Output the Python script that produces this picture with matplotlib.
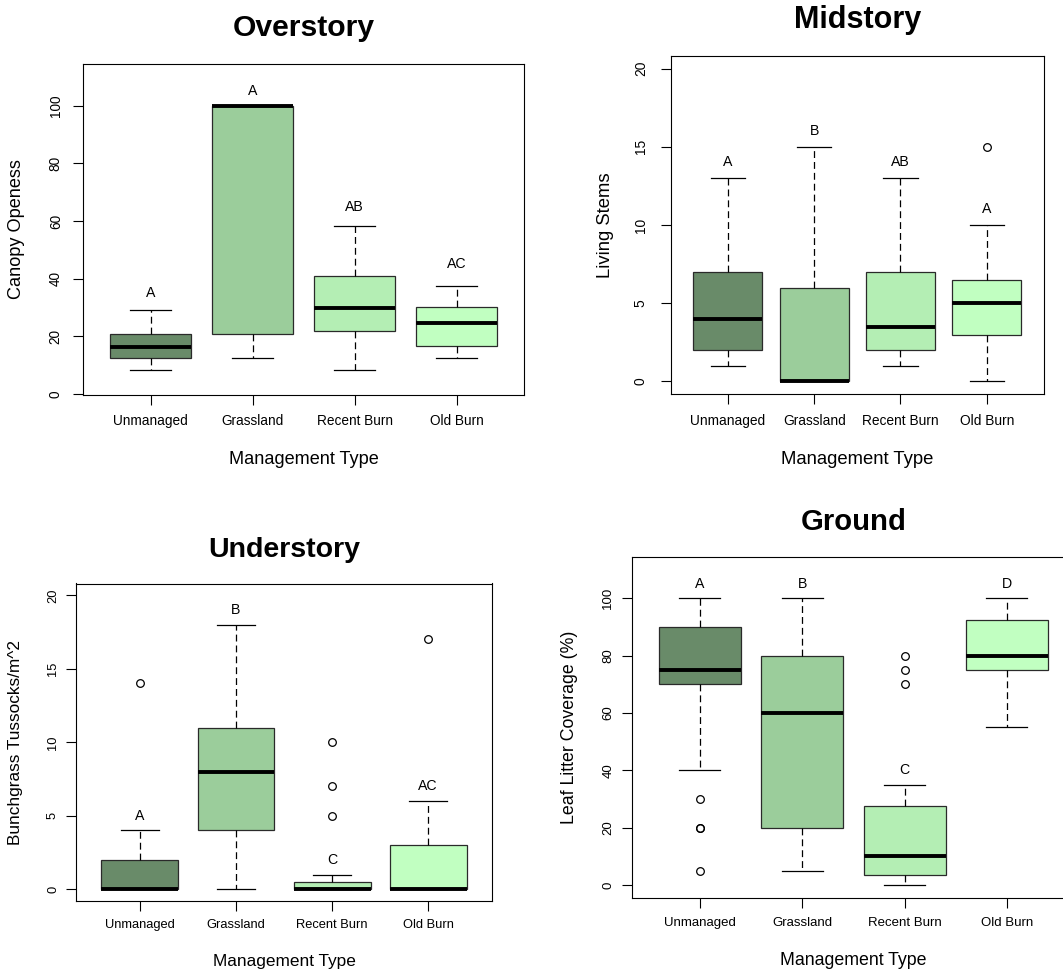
import matplotlib
matplotlib.use('Agg')
import matplotlib.pyplot as plt

plt.rcParams['font.family'] = ['Liberation Sans', 'DejaVu Sans']

categories = ['Unmanaged', 'Grassland', 'Recent Burn', 'Old Burn']
box_colors = ['#698B69', '#9BCD9B', '#B4EEB4', '#C1FFC1']
x_label = 'Management Type'

# ---- Overstory ----
over_whislo = [8.4, 12.5, 8.4, 12.5]
over_q1 = [12.5, 20.9, 21.8, 16.6]
over_med = [16.5, 100, 29.7, 24.5]
over_q3 = [20.8, 100, 41.0, 30.1]
over_whishi = [29.2, 100, 58.3, 37.5]
over_fliers = [[], [], [], []]
over_letters = ['A', 'A', 'AB', 'AC']
over_letter_y = [35, 105, 65, 45]
over_yticks = [0, 20, 40, 60, 80, 100]

# ---- Midstory ----
mid_whislo = [1, 0, 1, 0]
mid_q1 = [2, 0, 2, 3]
mid_med = [4, 0, 3.5, 5]
mid_q3 = [7, 6, 7, 6.5]
mid_whishi = [13, 15, 13, 10]
mid_fliers = [[], [], [], [15]]
mid_letters = ['A', 'B', 'AB', 'A']
mid_letter_y = [14, 16, 14, 11]
mid_yticks = [0, 5, 10, 15, 20]

# ---- Understory ----
und_whislo = [0, 0, 0, 0]
und_q1 = [0, 4, 0, 0]
und_med = [0, 8, 0, 0]
und_q3 = [2, 11, 0.5, 3]
und_whishi = [4, 18, 1, 6]
und_fliers = [[14], [], [5, 7, 10], [17]]
und_letters = ['A', 'B', 'C', 'AC']
und_letter_y = [5, 19, 2, 7]
und_yticks = [0, 5, 10, 15, 20]

# ---- Ground ----
gr_whislo = [40, 5, 0, 55]
gr_q1 = [70, 20, 3.5, 75]
gr_med = [75, 60, 10, 80]
gr_q3 = [90, 80, 27.4, 92.3]
gr_whishi = [100, 100, 35, 100]
gr_fliers = [[5, 20, 20, 30], [], [70, 75, 80], []]
gr_letters = ['A', 'B', 'C', 'D']
gr_letter_y = [105, 105, 40, 105]
gr_yticks = [0, 20, 40, 60, 80, 100]

W, H = 1063, 972
fig = plt.figure(figsize=(W / 100, H / 100), dpi=100)


def px_axes(l, r, t, b):
    return [l / W, 1 - b / H, (r - l) / W, (b - t) / H]


panels = [
    dict(title='Overstory', ylabel='Canopy Openess', rect=(83.3, 524, 64.3, 394.7),
         ylim=(-0.2, 114.3), data=(over_whislo, over_q1, over_med, over_q3, over_whishi, over_fliers),
         letters=over_letters, letter_y=over_letter_y, yticks=over_yticks,
         tfs=21.7, lfs=13.1, kfs=9.8, xtc=28.6, ytc=28.2, ylx=17, xly=460, tty=28.3),
    dict(title='Midstory', ylabel='Living Stems', rect=(671, 1043.7, 56, 394),
         ylim=(-0.8, 20.8), data=(mid_whislo, mid_q1, mid_med, mid_q3, mid_whishi, mid_fliers),
         letters=mid_letters, letter_y=mid_letter_y, yticks=mid_yticks,
         tfs=22, lfs=13.3, kfs=9.9, xtc=29.3, ytc=31, ylx=605, xly=459, tty=20),
    dict(title='Understory', ylabel='Bunchgrass Tussocks/m^2', rect=(76.4, 491.7, 583.5, 901),
         ylim=(-0.8, 20.8), data=(und_whislo, und_q1, und_med, und_q3, und_whishi, und_fliers),
         letters=und_letters, letter_y=und_letter_y, yticks=und_yticks,
         tfs=20.5, lfs=12.4, kfs=9.25, xtc=26.7, ytc=24.7, ylx=15.5, xly=961.7, tty=550),
    dict(title='Ground', ylabel='Leaf Litter Coverage (%)', rect=(632, 1074.6, 557, 897.5),
         ylim=(-4.4, 114.4), data=(gr_whislo, gr_q1, gr_med, gr_q3, gr_whishi, gr_fliers),
         letters=gr_letters, letter_y=gr_letter_y, yticks=gr_yticks,
         tfs=21.1, lfs=12.8, kfs=9.55, xtc=28.2, ytc=25.3, ylx=570, xly=960, tty=521.7),
]

ticklen_pt = 7.0
ticklen_px = ticklen_pt * 100 / 72

for p in panels:
    l, r, t, b = p['rect']
    ax = fig.add_axes(px_axes(l, r, t, b))
    wl, q1, md, q3, wh, fl = p['data']
    stats = [dict(whislo=wl[i], q1=q1[i], med=md[i], q3=q3[i], whishi=wh[i], fliers=fl[i])
             for i in range(len(categories))]
    bp = ax.bxp(stats, positions=[1, 2, 3, 4], widths=0.8, capwidths=0.4, patch_artist=True,
                showfliers=True,
                boxprops=dict(edgecolor='#2a2a2a', linewidth=0.9),
                whiskerprops=dict(color='black', linewidth=0.9, linestyle=(0, (5.5, 3.2))),
                capprops=dict(color='black', linewidth=0.9),
                medianprops=dict(color='black', linewidth=2.8, solid_capstyle='butt'),
                flierprops=dict(marker='o', markerfacecolor='none', markeredgecolor='black',
                                markersize=5.5, markeredgewidth=0.9, linestyle='none'))
    for patch, c in zip(bp['boxes'], box_colors):
        patch.set_facecolor(c)

    for i, (lt, ly) in enumerate(zip(p['letters'], p['letter_y'])):
        ax.text(i + 1, ly, lt, ha='center', va='center', fontsize=10.2)

    ax.set_xlim(0.34, 4.66)
    ax.set_ylim(*p['ylim'])
    ax.set_xticks([1, 2, 3, 4])
    ax.set_xticklabels(categories, fontsize=p['kfs'])
    ax.set_yticks(p['yticks'])
    ax.set_yticklabels([str(v) for v in p['yticks']], fontsize=p['kfs'], rotation=90, va='center')

    em = p['kfs'] * 100 / 72
    xpad_px = (p['xtc'] + 0.25 * em - 0.905 * em) - ticklen_px
    ypad_px = (p['ytc'] - 0.57 * em) - ticklen_px
    ax.tick_params(axis='x', length=ticklen_pt, width=0.8, pad=xpad_px * 0.72, direction='out')
    ax.tick_params(axis='y', length=ticklen_pt, width=0.8, pad=ypad_px * 0.72, direction='out')
    for s in ax.spines.values():
        s.set_linewidth(0.8)
        s.set_color('black')

    w_px = r - l
    h_px = b - t
    ax.set_xlabel(x_label, fontsize=p['lfs'])
    ax.xaxis.set_label_coords(0.5, -(p['xly'] - b) / h_px)
    ax.xaxis.label.set_va('center')
    ax.set_ylabel(p['ylabel'], fontsize=p['lfs'])
    ax.yaxis.set_label_coords((p['ylx'] - l) / w_px, 0.5)
    ax.yaxis.label.set_va('center')
    ax.text(0.5, 1 + (t - p['tty']) / h_px, p['title'], transform=ax.transAxes,
            ha='center', va='center', fontsize=p['tfs'], fontweight='bold')

fig.savefig('out.png', dpi=100)
